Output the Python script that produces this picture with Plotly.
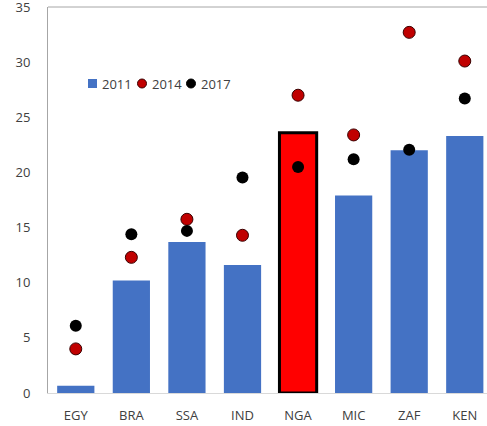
import plotly.graph_objects as go

categories = ["EGY", "BRA", "SSA", "IND", "NGA", "MIC", "ZAF", "KEN"]
values_2011 = [0.66, 10.2, 13.7, 11.6, 23.6, 17.9, 22.0, 23.3]
values_2014 = [4.0, 12.3, 15.75, 14.3, 27.0, 23.4, 32.7, 30.1]
values_2017 = [6.1, 14.4, 14.7, 19.55, 20.5, 21.2, 22.05, 26.7]
y_ticks = [0, 5, 10, 15, 20, 25, 30, 35]
series_names = ["2011", "2014", "2017"]
highlight = "NGA"

BLUE = "#4472C4"
RED_DOT = "#C00000"
BLACK = "#000000"

W, H = 487, 426
ML, MR, MT, MB = 48, 0, 7, 33
PW, PH = W - ML - MR, H - MT - MB

bar_colors = ["#FF0000" if c == highlight else BLUE for c in categories]
bar_line_w = [3 if c == highlight else 0 for c in categories]

fig = go.Figure()
fig.add_trace(go.Bar(
    x=categories, y=values_2011, name=series_names[0],
    marker=dict(color=bar_colors, line=dict(color="#000000", width=bar_line_w)),
))
fig.add_trace(go.Scatter(
    x=categories, y=values_2014, name=series_names[1], mode="markers",
    marker=dict(color=RED_DOT, size=12, line=dict(color="#3a0000", width=1)),
))
fig.add_trace(go.Scatter(
    x=categories, y=values_2017, name=series_names[2], mode="markers",
    marker=dict(color=BLACK, size=12, line=dict(width=0)),
))

# manual legend (compact, like the original)
def px(x):
    return (x - ML) / PW

def py(y):
    return (H - MB - y) / PH

leg_y = 83.5
shapes = [dict(type="line", xref="paper", yref="paper", x0=0, x1=1, y0=1, y1=1,
               line=dict(color="#A6A6A6", width=1))]
annotations = []
sym = [("rect", BLUE, 92.5, 9), ("circle", RED_DOT, 142, 9), ("circle", BLACK, 191, 9)]
txt_x = [100, 150, 199]
for (kind, col, cx, s), name, tx in zip(sym, series_names, txt_x):
    shapes.append(dict(type=kind, xref="paper", yref="paper",
                       xsizemode="pixel", ysizemode="pixel",
                       xanchor=px(cx), yanchor=py(leg_y),
                       x0=-s / 2, x1=s / 2, y0=-s / 2, y1=s / 2,
                       fillcolor=col,
                       line=dict(color="#3a0000" if col == RED_DOT else col,
                                 width=1 if kind == "circle" else 0)))
    annotations.append(dict(text=name, xref="paper", yref="paper", x=px(tx), y=py(leg_y),
                            xanchor="left", yanchor="middle", showarrow=False,
                            font=dict(size=13, color="#404040")))

fig.update_layout(
    width=W, height=H,
    margin=dict(l=ML, r=MR, t=MT, b=MB, pad=0, autoexpand=False),
    paper_bgcolor="white", plot_bgcolor="white",
    font=dict(family="Open Sans", size=13, color="#404040"),
    bargap=0.33,
    showlegend=False,
    xaxis=dict(type="category", range=[-0.5, 7.4], showgrid=False,
               showline=True, linecolor="#D9D9D9", linewidth=1, automargin=False,
               ticks="", ticklabelstandoff=10, ticklabeloverflow="allow",
               tickfont=dict(size=13, color="#404040")),
    yaxis=dict(range=[0, 35], tickvals=y_ticks, showgrid=False, zeroline=False,
               showline=True, linecolor="#A6A6A6", linewidth=1, automargin=False,
               ticks="", ticklabelstandoff=14, ticklabeloverflow="allow",
               tickfont=dict(size=13, color="#404040")),
    shapes=shapes,
    annotations=annotations,
)

fig.write_html("out.html", config={"displayModeBar": False},
               post_script="document.body.style.margin='0';document.body.style.overflow='hidden';")
